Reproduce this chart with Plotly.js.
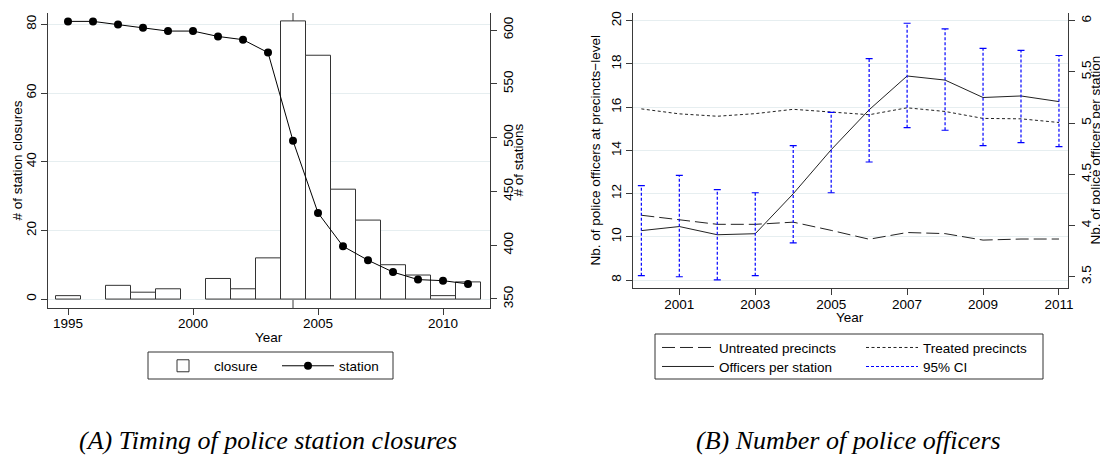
<!DOCTYPE html>
<html>
<head>
<meta charset="utf-8">
<script src="https://cdn.plot.ly/plotly-3.0.1.min.js"></script>
<style>html,body{margin:0;padding:0;background:#fff;}#chart{width:1100px;height:455px;}</style>
</head>
<body>
<div id="chart"></div>
<script>
// ---- Panel A data ----
const yearsA = [1995,1996,1997,1998,1999,2000,2001,2002,2003,2004,2005,2006,2007,2008,2009,2010,2011];
const closures = [1,null,4,2,3,null,6,3,12,81,71,32,23,10,7,1,5];
const stations = [608,608,605,602,599,599,594,591,579,497,430,399,386,375,368,367,364];
const reformYear = 2004;
const ticksA_x = [1995,2000,2005,2010];
const ticksA_y1 = [0,20,40,60,80];
const ticksA_y2 = [350,400,450,500,550,600];

// ---- Panel B data ----
const yearsB = [2000,2001,2002,2003,2004,2005,2006,2007,2008,2009,2010,2011];
const untreated = [11.0,10.8,10.58,10.58,10.68,10.3,9.89,10.2,10.15,9.85,9.9,9.9];
const treated = [15.92,15.69,15.58,15.7,15.9,15.77,15.65,15.97,15.8,15.48,15.46,15.29];
const officersPerStation = [3.95,3.99,3.91,3.92,4.31,4.74,5.13,5.46,5.42,5.25,5.265,5.21];
const ciLow = [3.51,3.50,3.47,3.51,3.83,4.32,4.62,4.955,4.93,4.78,4.81,4.77];
const ciHigh = [4.39,4.49,4.35,4.32,4.78,5.105,5.63,5.975,5.92,5.73,5.71,5.66];
const ticksB_x = [2001,2003,2005,2007,2009,2011];
const ticksB_y1 = [8,10,12,14,16,18,20];
const ticksB_y2 = [3.5,4,4.5,5,5.5,6];

// ---- helpers ----
const W = 1100, H = 455;
const px = x => x / W;
const py = y => 1 - y / H;
const FONT = 'Liberation Sans, Arial, Helvetica, sans-serif';
const SERIF = 'Liberation Serif, Times New Roman, serif';
const AX = '#3a3a3a';
const GRID = '#e6eef0';
const tickFont = {family: FONT, size: 13.5, color: '#000'};

// CI vertical segments
const ciX = [], ciY = [];
yearsB.forEach((yr, i) => { ciX.push(yr, yr, null); ciY.push(ciLow[i], ciHigh[i], null); });
const capX = yearsB.concat(yearsB);
const capY = ciLow.concat(ciHigh);

const traces = [
  {type:'bar', x:yearsA, y:closures, width:1, name:'closure', xaxis:'x', yaxis:'y',
   marker:{color:'#ffffff', line:{color:'#333333', width:1}}, legend:'legend'},
  {type:'scatter', mode:'lines+markers', x:yearsA, y:stations, name:'station', xaxis:'x', yaxis:'y2',
   line:{color:'#000', width:1}, marker:{color:'#000', size:8}, legend:'legend'},
  {type:'scatter', mode:'lines', x:yearsB, y:untreated, name:'Untreated precincts', xaxis:'x3', yaxis:'y3',
   line:{color:'#222', width:1, dash:'13px,5px'}, legend:'legend2'},
  {type:'scatter', mode:'lines', x:yearsB, y:treated, name:'Treated precincts', xaxis:'x3', yaxis:'y3',
   line:{color:'#222', width:1, dash:'3px,2.5px'}, legend:'legend2'},
  {type:'scatter', mode:'lines', x:yearsB, y:officersPerStation, name:'Officers per station', xaxis:'x3', yaxis:'y4',
   line:{color:'#222', width:1}, legend:'legend3'},
  {type:'scatter', mode:'lines', x:ciX, y:ciY, name:'95% CI', xaxis:'x3', yaxis:'y4', connectgaps:false,
   line:{color:'#0000ff', width:1.2, dash:'3px,2px'}, legend:'legend3'},
  {type:'scatter', mode:'markers', x:capX, y:capY, showlegend:false, xaxis:'x3', yaxis:'y4',
   marker:{symbol:'line-ew', size:5, line:{color:'#0000ff', width:1.2}}}
];

const baseAxis = {showline:true, linecolor:AX, linewidth:1, ticks:'outside', ticklen:6, tickcolor:AX,
  tickwidth:1, zeroline:false, tickfont:tickFont, fixedrange:true};

const legendFont = {family:FONT, size:13.5, color:'#000'};

const layout = {
  width:W, height:H, margin:{l:0,r:0,t:0,b:0}, paper_bgcolor:'#fff', plot_bgcolor:'#fff',
  font:{family:FONT, size:13.5, color:'#000'},
  bargap:0, showlegend:true,
  xaxis: Object.assign({}, baseAxis, {domain:[px(48), px(490)], range:[1994.2, 2011.88], anchor:'y',
    tickmode:'array', tickvals:ticksA_x, showgrid:false, ticklabelstandoff:-3}),
  yaxis: Object.assign({}, baseAxis, {domain:[py(308), py(13)], range:[-2.6, 83.3], anchor:'x',
    tickmode:'array', tickvals:ticksA_y1, tickangle:-90, showgrid:true, gridcolor:GRID, gridwidth:1}),
  yaxis2: Object.assign({}, baseAxis, {overlaying:'y', side:'right', anchor:'x', range:[341.6, 615.8],
    tickmode:'array', tickvals:ticksA_y2, tickangle:-90, showgrid:false}),
  xaxis3: Object.assign({}, baseAxis, {domain:[px(633), px(1067.7)], range:[1999.78, 2011.23], anchor:'y3',
    tickmode:'array', tickvals:ticksB_x, showgrid:false, ticklabelstandoff:-3}),
  yaxis3: Object.assign({}, baseAxis, {domain:[py(288.3), py(12.7)], range:[7.62, 20.37], anchor:'x3',
    tickmode:'array', tickvals:ticksB_y1, tickangle:-90, showgrid:true, gridcolor:GRID, gridwidth:1}),
  yaxis4: Object.assign({}, baseAxis, {overlaying:'y3', side:'right', anchor:'x3', range:[3.387, 6.078],
    tickmode:'array', tickvals:ticksB_y2, tickangle:-90, showgrid:false}),
  legend: {orientation:'h', x:px(152), xanchor:'left', y:py(366), yanchor:'middle', bgcolor:'rgba(0,0,0,0)',
    borderwidth:0, font:legendFont, itemwidth:52, entrywidth:58, entrywidthmode:'pixels'},
  legend2: {orientation:'h', x:px(657), xanchor:'left', y:py(347.7), yanchor:'middle', bgcolor:'rgba(0,0,0,0)',
    borderwidth:0, font:legendFont, itemwidth:52, entrywidth:137, entrywidthmode:'pixels'},
  legend3: {orientation:'h', x:px(657), xanchor:'left', y:py(366.7), yanchor:'middle', bgcolor:'rgba(0,0,0,0)',
    borderwidth:0, font:legendFont, itemwidth:52, entrywidth:137, entrywidthmode:'pixels'},
  shapes: [
    {type:'line', xref:'x', yref:'y domain', x0:reformYear, x1:reformYear, y0:0, y1:1, layer:'below',
     line:{color:AX, width:1}},
    {type:'rect', xref:'paper', yref:'paper', x0:px(148), x1:px(393), y0:py(379), y1:py(352),
     line:{color:'#333', width:1}, fillcolor:'rgba(0,0,0,0)'},
    {type:'rect', xref:'paper', yref:'paper', x0:px(655), x1:px(1043), y0:py(379), y1:py(334),
     line:{color:'#333', width:1}, fillcolor:'rgba(0,0,0,0)'}
  ],
  annotations: [
    {text:'# of station closures', xref:'paper', yref:'paper', x:px(17), y:py(160.5), textangle:-90,
     showarrow:false, xanchor:'center', yanchor:'middle', font:{family:FONT, size:13.5}},
    {text:'# of stations', xref:'paper', yref:'paper', x:px(518), y:py(160.5), textangle:-90,
     showarrow:false, xanchor:'center', yanchor:'middle', font:{family:FONT, size:13.5}},
    {text:'Year', xref:'paper', yref:'paper', x:px(269), y:py(337), showarrow:false,
     xanchor:'center', yanchor:'middle', font:{family:FONT, size:13.5}},
    {text:'Nb. of police officers at precincts\u2212level', xref:'paper', yref:'paper', x:px(595), y:py(150.5),
     textangle:-90, showarrow:false, xanchor:'center', yanchor:'middle', font:{family:FONT, size:13.5}},
    {text:'Nb. of police officers per station', xref:'paper', yref:'paper', x:px(1095), y:py(150.5),
     textangle:-90, showarrow:false, xanchor:'center', yanchor:'middle', font:{family:FONT, size:13.5}},
    {text:'Year', xref:'paper', yref:'paper', x:px(850), y:py(317.3), showarrow:false,
     xanchor:'center', yanchor:'middle', font:{family:FONT, size:13.5}},
    {text:'<i>(A) Timing of police station closures</i>', xref:'paper', yref:'paper', x:px(268), y:py(440),
     showarrow:false, xanchor:'center', yanchor:'middle', font:{family:SERIF, size:26, color:'#000'}},
    {text:'<i>(B) Number of police officers</i>', xref:'paper', yref:'paper', x:px(848), y:py(440),
     showarrow:false, xanchor:'center', yanchor:'middle', font:{family:SERIF, size:26, color:'#000'}}
  ]
};

Plotly.newPlot('chart', traces, layout, {displayModeBar:false, staticPlot:true});
</script>
</body>
</html>
